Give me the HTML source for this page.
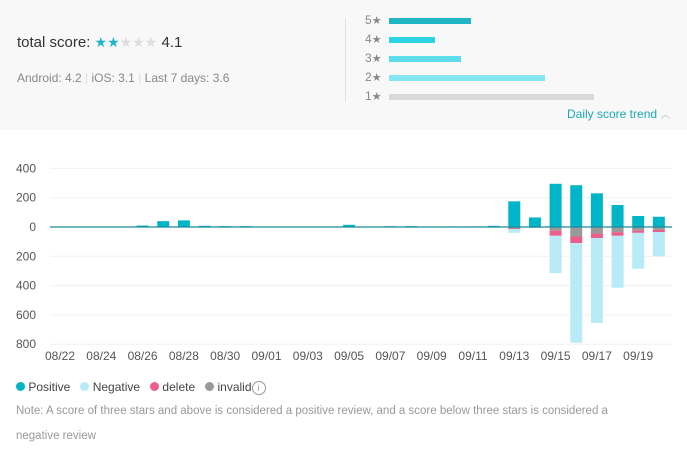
<!DOCTYPE html>
<html><head><meta charset="utf-8"><style>
body{margin:0;width:687px;height:466px;background:#fff;font-family:"Liberation Sans",sans-serif;overflow:hidden;position:relative}
.top{position:absolute;left:0;top:0;width:687px;height:130px;background:#f8f8f8}
.abs{position:absolute;white-space:nowrap}
</style></head><body>
<div class="top">
  <div class="abs" style="left:17px;top:34px;font-size:15px;color:#333">total score: <span style="color:#1fb5c4;font-size:14px">★★</span><span style="color:#ddd;font-size:14px">★★★</span> <span style="font-size:15px">4.1</span></div>
  <div class="abs" style="left:17px;top:71px;font-size:12px;color:#888">Android: 4.2 <span style="color:#ddd">|</span> iOS: 3.1 <span style="color:#ddd">|</span> Last 7 days: 3.6</div>
  <div class="abs" style="left:345px;top:18px;width:1px;height:84px;background:#e2e2e2"></div>
  <div id="rb"></div>
  <div class="abs" style="left:567px;top:106px;font-size:12px;color:#1aa9b8">Daily score trend <span style="color:#bbb;font-size:10px">︿</span></div>
</div>
<svg id="chart" width="687" height="466" style="position:absolute;left:0;top:0"></svg>
<div class="abs" style="left:16px;top:380px;font-size:12px;color:#444">
  <span><span style="display:inline-block;width:9px;height:9px;border-radius:50%;background:#00b5c8"></span> Positive</span>&nbsp;&nbsp;
  <span><span style="display:inline-block;width:9px;height:9px;border-radius:50%;background:#b8ebf7"></span> Negative</span>&nbsp;&nbsp;
  <span><span style="display:inline-block;width:9px;height:9px;border-radius:50%;background:#eb5e8c"></span> delete</span>&nbsp;&nbsp;
  <span><span style="display:inline-block;width:9px;height:9px;border-radius:50%;background:#999"></span> invalid</span><span style="display:inline-block;width:12px;height:12px;border:1px solid #999;border-radius:50%;font-size:9px;text-align:center;line-height:12px;color:#999;vertical-align:middle">i</span>
</div>
<div class="abs" style="left:16px;top:399px;font-size:11.5px;color:#999;line-height:25px;white-space:normal;width:615px">Note: A score of three stars and above is considered a positive review, and a score below three stars is considered a negative review</div>
<script>
const starLabels=["5","4","3","2","1"];
const starWidths=[82,46,72,156,205];
const starColors=["#1fb5c4","#2bd3e3","#5ddde9","#84e6f0","#d9d9d9"];
const dates=["08/22","08/23","08/24","08/25","08/26","08/27","08/28","08/29","08/30","08/31","09/01","09/02","09/03","09/04","09/05","09/06","09/07","09/08","09/09","09/10","09/11","09/12","09/13","09/14","09/15","09/16","09/17","09/18","09/19","09/20"];
const positive=[0,0,0,0,10,40,45,8,6,6,3,3,0,0,15,0,5,6,0,4,4,8,175,65,295,285,230,150,75,70];
const invalid=[0,0,0,0,0,0,0,0,0,0,0,0,0,0,0,0,0,0,0,0,0,0,10,5,25,65,45,35,25,20];
const deleted=[0,0,0,0,0,0,0,0,0,0,0,0,0,0,0,0,0,0,0,0,0,0,5,0,35,45,30,25,15,15];
const negative=[0,0,0,0,0,0,0,0,0,0,0,0,0,0,0,0,0,0,0,0,0,0,25,0,255,680,580,355,245,165];
const yTicks=[400,200,0,-200,-400,-600,-800];
const yTickLabels=["400","200","0","200","400","600","800"];
const NS="http://www.w3.org/2000/svg";
const rb=document.getElementById('rb');
starLabels.forEach((l,i)=>{
  const t=document.createElement('div');t.className='abs';
  t.style.cssText=`left:365px;top:${13+i*19}px;font-size:12px;color:#888`;
  t.innerHTML=l+'<span style="font-size:11px">★</span>';
  
  
  rb.appendChild(t);
  const b=document.createElement('div');b.className='abs';
  b.style.cssText=`left:389px;top:${18+i*19}px;height:6px;width:${starWidths[i]}px;background:${starColors[i]}`;
  
  
  rb.appendChild(b);
});
const svg=document.getElementById('chart');
const y0=227,k=0.1465;
const y=v=>y0-v*k;
const x=i=>60+i*20.65;
function el(tag,attrs){const e=document.createElementNS(NS,tag);for(const a in attrs)e.setAttribute(a,attrs[a]);svg.appendChild(e);return e;}
yTicks.forEach((v,i)=>{
  if(v!==0){const g=el('line',{x1:50,x2:672,y1:y(v),y2:y(v),stroke:'#f0f0f0'});
  
  }
  const t=el('text',{x:36,y:y(v)+4,'text-anchor':'end','font-size':12,fill:'#555','font-family':'Liberation Sans'});
  t.textContent=yTickLabels[i];
  
  
});
dates.forEach((d,i)=>{
  const cx=x(i),w=12;
  function bar(a,b,c,n){if(b-a<=0)return;const r=el('rect',{x:cx-w/2,y:y(b),width:w,height:(b-a)*k,fill:c});
    
    }
  bar(0,positive[i],'#00b5c8','positive');
  bar(-invalid[i],0,'#999999','invalid');
  bar(-invalid[i]-deleted[i],-invalid[i],'#eb5e8c','delete');
  bar(-invalid[i]-deleted[i]-negative[i],-invalid[i]-deleted[i],'#b8ebf7','negative');
  if(i%2===0){const t=el('text',{x:cx,y:360,'text-anchor':'middle','font-size':12,fill:'#555','font-family':'Liberation Sans'});
    t.textContent=d;
    
    }
});
const z=el('line',{x1:50,x2:672,y1:y0,y2:y0,stroke:'#1a8c99','stroke-width':1.2});


</script>
</body></html>
